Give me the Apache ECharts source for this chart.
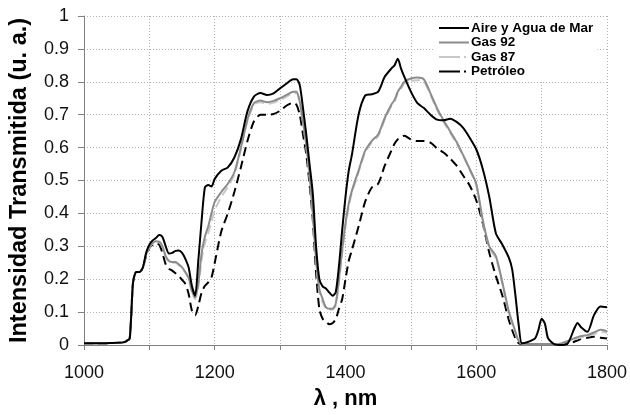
<!DOCTYPE html>
<html><head><meta charset="utf-8">
<script src="https://cdn.jsdelivr.net/npm/echarts@6/dist/echarts.min.js"></script>
<style>html,body{margin:0;padding:0;background:#fff;overflow:hidden}#c{width:630px;height:415px}</style>
</head><body><div id="c"></div>
<script>
const wavelengths = [
1000,1020,1040,1060,1065,1070,1075,1080,1085,1090,
1095,1100,1105,1110,1115,1120,1125,1130,1135,1140,
1145,1150,1155,1160,1165,1170,1175,1180,1185,1190,
1195,1200,1210,1220,1230,1240,1250,1260,1270,1280,
1290,1300,1310,1320,1325,1330,1335,1340,1345,1350,
1355,1360,1365,1370,1375,1380,1385,1390,1395,1400,
1405,1410,1420,1430,1440,1450,1460,1470,1475,1480,
1485,1490,1500,1510,1520,1530,1540,1550,1560,1570,
1580,1590,1600,1610,1620,1630,1640,1650,1655,1660,
1665,1670,1680,1690,1695,1700,1705,1710,1720,1730,
1740,1750,1755,1760,1770,1780,1790,1800];
const aireAgua = [
0.005,0.005,0.006,0.008,0.012,0.02,0.19,0.222,0.222,0.235,
0.28,0.305,0.318,0.325,0.334,0.328,0.30,0.278,0.28,0.286,
0.287,0.28,0.262,0.236,0.18,0.15,0.26,0.38,0.48,0.486,
0.482,0.505,0.53,0.54,0.57,0.625,0.71,0.755,0.766,0.76,
0.765,0.78,0.795,0.808,0.808,0.79,0.72,0.64,0.55,0.46,
0.3,0.2,0.178,0.172,0.16,0.15,0.16,0.24,0.35,0.45,
0.53,0.58,0.70,0.758,0.762,0.77,0.815,0.84,0.85,0.87,
0.84,0.815,0.77,0.735,0.72,0.70,0.685,0.683,0.688,0.678,
0.66,0.63,0.595,0.535,0.45,0.34,0.305,0.265,0.23,0.15,
0.06,0.005,0.01,0.02,0.045,0.08,0.065,0.02,0.002,0.0,
0.005,0.05,0.067,0.055,0.04,0.09,0.117,0.115];
const gas92 = [
0.005,0.005,0.006,0.008,0.012,0.02,0.19,0.222,0.222,0.235,
0.275,0.298,0.31,0.315,0.314,0.30,0.27,0.255,0.252,0.252,
0.245,0.236,0.222,0.205,0.165,0.145,0.19,0.28,0.33,0.36,
0.40,0.435,0.465,0.49,0.525,0.60,0.685,0.735,0.743,0.738,
0.742,0.75,0.76,0.77,0.77,0.74,0.68,0.61,0.52,0.40,
0.26,0.17,0.14,0.115,0.11,0.11,0.125,0.20,0.29,0.37,
0.43,0.47,0.53,0.59,0.62,0.64,0.69,0.73,0.745,0.77,
0.785,0.80,0.81,0.813,0.807,0.765,0.72,0.683,0.65,0.617,
0.577,0.535,0.49,0.38,0.30,0.27,0.19,0.10,0.07,0.04,
0.012,0.005,0.003,0.003,0.003,0.003,0.003,0.003,0.003,0.005,
0.012,0.02,0.024,0.027,0.03,0.038,0.046,0.042];
const gas87 = [
0.005,0.005,0.006,0.008,0.012,0.02,0.19,0.222,0.222,0.235,
0.275,0.296,0.308,0.313,0.312,0.298,0.268,0.252,0.25,0.25,
0.243,0.234,0.22,0.2,0.16,0.14,0.18,0.26,0.31,0.34,
0.375,0.41,0.45,0.48,0.518,0.595,0.68,0.73,0.738,0.733,
0.737,0.745,0.755,0.765,0.765,0.735,0.675,0.6,0.51,0.39,
0.25,0.16,0.13,0.11,0.108,0.108,0.12,0.19,0.28,0.36,
0.42,0.465,0.525,0.585,0.615,0.635,0.685,0.725,0.74,0.765,
0.78,0.795,0.803,0.805,0.8,0.76,0.715,0.678,0.645,0.612,
0.575,0.532,0.487,0.375,0.295,0.265,0.185,0.095,0.065,0.035,
0.01,0.004,0.003,0.003,0.003,0.003,0.003,0.003,0.003,0.004,
0.01,0.017,0.02,0.023,0.027,0.033,0.04,0.037];
const petroleo = [
0.005,0.005,0.006,0.008,0.012,0.02,0.19,0.222,0.222,0.235,
0.27,0.295,0.305,0.31,0.305,0.28,0.245,0.232,0.226,0.218,
0.21,0.198,0.186,0.156,0.105,0.09,0.12,0.16,0.18,0.19,
0.205,0.25,0.345,0.40,0.465,0.54,0.62,0.68,0.70,0.70,
0.702,0.712,0.728,0.736,0.73,0.70,0.64,0.58,0.49,0.38,
0.22,0.11,0.08,0.072,0.063,0.066,0.078,0.11,0.14,0.2,
0.256,0.29,0.36,0.435,0.478,0.49,0.545,0.59,0.612,0.625,
0.632,0.636,0.625,0.62,0.62,0.615,0.598,0.585,0.567,0.545,
0.515,0.485,0.44,0.37,0.28,0.21,0.15,0.075,0.045,0.02,
0.005,0.003,0.003,0.003,0.003,0.003,0.003,0.003,0.003,0.003,
0.004,0.01,0.014,0.018,0.022,0.025,0.022,0.02];
const seriesNames = ['Aire y Agua de Mar','Gas 92','Gas 87','Petróleo'];
const xTitle = 'λ , nm';
const yTitle = 'Intensidad Transmitida (u. a.)';

const pair = arr => wavelengths.map((w,i)=>[w, arr[i]]);
const styles = [
  {color:'#000000', type:'solid'},
  {color:'#8c8c8c', type:'solid'},
  {color:'#c8c8c8', type:[9,5]},
  {color:'#000000', type:[9,5]}
];
const legendDash = [21,4,2,10];
const values = [aireAgua, gas92, gas87, petroleo];
const chart = echarts.init(document.getElementById('c'), null, {renderer:'canvas'});
const font = 'Arial, "Liberation Sans", sans-serif';
chart.setOption({
  animation:false,
  backgroundColor:'#ffffff',
  grid:{left:84, right:22, top:16, bottom:66, containLabel:false},
  legend:{
    orient:'vertical', left:434, top:19, itemWidth:30, itemHeight:10, itemGap:0.5,
    backgroundColor:'#ffffff', padding:[2,4,2,4],
    itemStyle:{opacity:0},
    textStyle:{fontFamily:font, fontWeight:'bold', fontSize:13.5, lineHeight:14, color:'#000', padding:[0,0,0,-3]},
    data:seriesNames.map((n,k)=> styles[k].type === 'solid' ? {name:n} :
      {name:n, lineStyle:{type:legendDash, color:styles[k].color, width:2}})
  },
  xAxis:{
    type:'value', min:1000, max:1800, interval:100,
    name:xTitle, nameLocation:'middle', nameGap:43,
    nameTextStyle:{fontFamily:font, fontWeight:'bold', fontSize:22, color:'#000'},
    axisLine:{lineStyle:{color:'#808080', width:1}},
    axisTick:{show:true, length:5, lineStyle:{color:'#808080'}},
    axisLabel:{fontFamily:font, fontSize:18, color:'#111', margin:19,
      formatter:v => (v % 200 === 0 ? String(v) : '')},
    splitLine:{show:true, lineStyle:{color:'#b0b0b0', type:[1,2], width:1}}
  },
  yAxis:{
    type:'value', min:0, max:1, interval:0.1,
    name:yTitle, nameLocation:'middle', nameGap:52,
    nameTextStyle:{fontFamily:font, fontWeight:'bold', fontSize:23.5, color:'#000'},
    axisLine:{show:true, lineStyle:{color:'#808080', width:1}},
    axisTick:{show:true, length:6, lineStyle:{color:'#808080'}},
    axisLabel:{fontFamily:font, fontSize:18, color:'#111', margin:15,
      formatter:v => (v === 0 ? '0' : v === 1 ? '1' : v.toFixed(1))},
    splitLine:{show:true, lineStyle:{color:'#b0b0b0', type:[1,2], width:1}}
  },
  series: values.map((arr,k)=>({
    name:seriesNames[k], type:'line', data:pair(arr), showSymbol:false, symbol:'none',
    smooth:0.25, z:10-k,
    lineStyle:{color:styles[k].color, type:styles[k].type, width:2},
    itemStyle:{color:styles[k].color}
  }))
});
</script></body></html>
